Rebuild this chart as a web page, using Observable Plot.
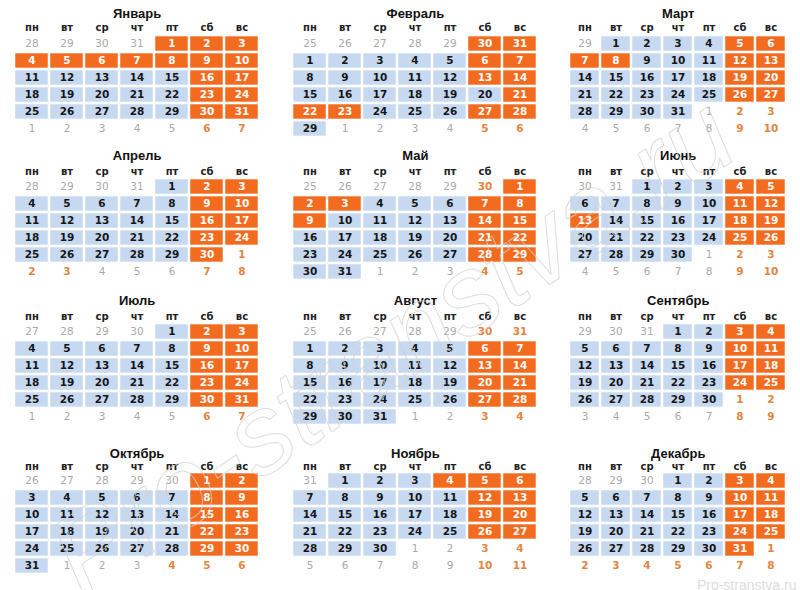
<!DOCTYPE html>
<html>
<head>
<meta charset="utf-8">
<script src="https://cdn.jsdelivr.net/npm/d3@7"></script>
<script src="https://cdn.jsdelivr.net/npm/@observablehq/plot@0.6"></script>
<style>
  body { margin: 0; background: #fff; }
  #chart { position: relative; width: 800px; height: 590px; background: #fff; overflow: hidden; }
</style>
</head>
<body>
<div id="chart"></div>
<script>
// ---------- DATA ----------
const year = 2016;
const monthNames = ["Январь","Февраль","Март","Апрель","Май","Июнь","Июль","Август","Сентябрь","Октябрь","Ноябрь","Декабрь"];
const weekdayLabels = ["пн","вт","ср","чт","пт","сб","вс"];
// non-working weekdays (official holidays / transferred days off)
const holidayDates = [
  "2016-01-01","2016-01-04","2016-01-05","2016-01-06","2016-01-07","2016-01-08",
  "2016-02-22","2016-02-23","2016-03-07","2016-03-08",
  "2016-05-02","2016-05-03","2016-05-09","2016-06-13","2016-11-04",
  "2017-01-02","2017-01-03","2017-01-04","2017-01-05","2017-01-06"
];
// weekend days that are working days
const workingWeekendDates = ["2016-02-20"];
// neighbouring-month days that are drawn as boxes anyway (as in the picture)
const boxedNeighbourMonths = [1, 1];
const boxedNeighbourDates = ["2016-01-30", "2016-01-31"];
const watermarkText = "Pro-stranstva.ru";
const captionText = "Pro-stranstva.ru";

// ---------- LAYOUT ----------
const colLeft = [11.7, 290.6, 568.2];
const colPitch = [35.6, 35.4, 31.35];
const blockRow1 = [42.5, 186.3, 330.5, 480];
const titleOffset = [-29.5, -30.2, -30.5, -27];
const headerOffset = [-15.5, -14.6, -14.5, -13.5];
const rowStep = 17;
const topPad = 40;                 // svg top = row1 - topPad
const marginTop = topPad - rowStep / 2;

const ORANGE = "#f26b1f", BLUE = "#c6d9f1";
const NUMFONT = "DejaVu Sans, Verdana, sans-serif";

const fmt = d3.utcFormat("%Y-%m-%d");
const holidaySet = new Set(holidayDates);
const workSet = new Set(workingWeekendDates);
function isOff(d) {
  const s = fmt(d);
  if (holidaySet.has(s)) return true;
  if (workSet.has(s)) return false;
  const w = d.getUTCDay();
  return w === 0 || w === 6;
}
function monthCells(m) {
  const start = d3.utcMonday.floor(new Date(Date.UTC(year, m, 0)));
  return d3.range(42).map(i => {
    const d = d3.utcDay.offset(start, i);
    const inMonth = d.getUTCMonth() === m && d.getUTCFullYear() === year;
    const s = fmt(d);
    const boxed = inMonth || boxedNeighbourDates.some((b, k) => b === s && boxedNeighbourMonths[k] === m);
    return {col: i % 7, row: Math.floor(i / 7), day: String(d.getUTCDate()), off: isOff(d) ? "off" : "work", boxed};
  });
}

const chart = document.getElementById("chart");

monthNames.forEach((name, m) => {
  const c = m % 3, r = Math.floor(m / 3);
  const pitch = colPitch[c];
  const W = pitch * 7;
  const H = marginTop + rowStep * 6 + 3;
  const cells = monthCells(m);
  const boxes = cells.filter(d => d.boxed);
  const plot = Plot.plot({
    width: W, height: H,
    marginLeft: 0, marginRight: 0, marginTop, marginBottom: H - marginTop - rowStep * 6,
    x: {type: "band", domain: d3.range(7), padding: 0, axis: null},
    y: {type: "band", domain: d3.range(6), padding: 0, axis: null},
    color: {domain: ["off", "work"], range: [ORANGE, BLUE]},
    style: {background: "transparent", overflow: "visible"},
    marks: [
      Plot.cell(boxes, {x: "col", y: "row", fill: "off", insetLeft: 1.25, insetRight: 1.25, insetTop: 1.3, insetBottom: 1.3}),
      Plot.text(cells.filter(d => d.boxed && d.off === "off"), {x: "col", y: "row", text: "day", fill: "#ffffff", fontWeight: "bold", fontSize: 10.5, fontFamily: NUMFONT}),
      Plot.text(cells.filter(d => d.boxed && d.off === "work"), {x: "col", y: "row", text: "day", fill: "#161616", fontWeight: "bold", fontSize: 10.5, fontFamily: NUMFONT}),
      Plot.text(cells.filter(d => !d.boxed && d.off === "off"), {x: "col", y: "row", text: "day", fill: "#e3843f", fontWeight: "bold", fontSize: 10.5, fontFamily: NUMFONT}),
      Plot.text(cells.filter(d => !d.boxed && d.off === "work"), {x: "col", y: "row", text: "day", fill: "#a9a9a9", fontWeight: "normal", fontSize: 10.5, fontFamily: NUMFONT}),
      Plot.text(weekdayLabels, {x: (d, i) => i, text: d => d, frameAnchor: "top", lineAnchor: "middle", dy: headerOffset[r] + rowStep / 2, fill: "#222", fontWeight: "bold", fontSize: 10, fontFamily: NUMFONT}),
      Plot.text([name], {text: d => d, frameAnchor: "top", lineAnchor: "middle", dy: titleOffset[r] + rowStep / 2, fill: "#111", fontWeight: "bold", fontSize: 13, fontFamily: "Liberation Sans, Arial, sans-serif"})
    ]
  });
  plot.style.position = "absolute";
  plot.style.left = colLeft[c] + "px";
  plot.style.top = (blockRow1[r] - topPad) + "px";
  chart.appendChild(plot);
});

// watermark overlay
const overlay = Plot.plot({
  width: 800, height: 590, margin: 0,
  style: {background: "transparent"},
  marks: [
    Plot.text([watermarkText], {text: d => d, frameAnchor: "middle", dx: -8, dy: 52, rotate: -34,
      fontSize: 112, fontStyle: "italic", fontFamily: "Liberation Sans, Arial, sans-serif",
      fill: "none", stroke: "#d2d2d2", strokeWidth: 1, strokeOpacity: 0.75}),
    Plot.text([captionText], {text: d => d, frameAnchor: "bottom-right", textAnchor: "end", lineAnchor: "bottom", dx: -4, dy: -1,
      fontSize: 14, fontFamily: "Liberation Sans, Arial, sans-serif", fill: "#dcdcdc"})
  ]
});
overlay.style.position = "absolute";
overlay.style.left = "0px";
overlay.style.top = "0px";
overlay.style.pointerEvents = "none";
chart.appendChild(overlay);
</script>
</body>
</html>
